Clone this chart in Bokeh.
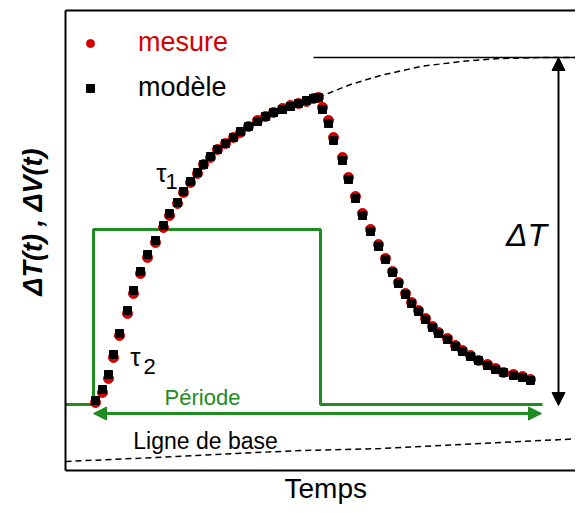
from bokeh.plotting import figure
from bokeh.models import (Range1d, LinearAxis, FixedTicker, Arrow, NormalHead,
                          Label, Legend, LegendItem, Title)
from bokeh.embed import file_html
from bokeh.resources import INLINE

# ---------------- data (arbitrary units) ----------------
temps = [30, 37, 43, 48, 54, 62, 68, 75, 82, 90, 98, 104, 112, 118, 125, 132, 138, 145,
         152, 160, 168, 175, 183, 192, 200, 208, 217, 225, 233, 241, 248, 253,
         257, 263, 268, 277, 283, 290, 297, 305, 313, 320, 327, 333, 340, 346, 353,
         360, 367, 373, 382, 390, 397, 405, 413, 422, 430, 438, 448, 457, 465]
mesure = [68, 78, 92, 113, 135, 157, 177, 197, 213, 228, 243, 255, 267, 278, 288, 297,
          306, 313, 321, 327, 333, 338, 344, 350, 354, 358, 362, 365, 367, 369, 372, 373,
          363, 350, 333, 313, 293, 274, 257, 241, 226, 212, 199, 188, 177, 168, 160,
          152, 144, 138, 132, 125, 120, 115, 110, 106, 102, 98, 96, 94, 91]
modele = [70, 81, 96, 116, 137, 160, 180, 199, 216, 230, 245, 257, 268, 279, 289, 298,
          306, 314, 321, 327, 333, 339, 344, 349, 354, 358, 361, 364, 367, 370, 372, 373,
          361, 347, 330, 310, 291, 272, 255, 239, 224, 211, 198, 187, 176, 167, 159,
          151, 143, 137, 131, 124, 119, 114, 110, 105, 101, 98, 95, 93, 90]

# heating pulse (Période)
pulse_t = [0, 28, 28, 255, 255, 477]
pulse_v = [66, 66, 241, 241, 66, 66]
periode_start, periode_end, periode_level = 28, 476, 57

# extrapolated model (dashed) and baseline (dashed)
extrap_t = [253, 265, 285, 315, 355, 395, 435, 475, 518]
extrap_v = [373, 378, 386, 395, 404, 409, 412, 413, 413]
base_t = [0, 90, 170, 235, 315, 415, 518]
base_v = [9, 13, 17, 20, 22, 27, 32]

# asymptote and amplitude ΔT
asym_t = [248, 518]
asym_v = [413, 413]
dT_x, dT_low, dT_high = 493, 65, 413

X_MAX, Y_MAX = 510, 460

FONT = "Liberation Sans"
RED = "#d40000"
GREEN = "#1f8c1f"

p = figure(width=575, height=505, output_backend="svg", toolbar_location=None,
           x_range=Range1d(0, X_MAX), y_range=Range1d(0, Y_MAX),
           x_axis_type=None, y_axis_type=None,
           min_border_left=65, min_border_right=0, min_border_top=10,
           min_border_bottom=35)
p.outline_line_color = None
p.background_fill_color = "white"

for loc in ["left", "below", "above"]:
    ax = LinearAxis(ticker=FixedTicker(ticks=[]), axis_line_color="black",
                    axis_line_width=2, major_tick_line_color=None,
                    minor_tick_line_color=None, major_label_text_font_size="0px")
    p.add_layout(ax, loc)

# axis titles
p.add_layout(Title(text="Temps", align="left", offset=219, standoff=0,
                   text_font=FONT, text_font_size="28px", text_font_style="normal",
                   text_color="black"), "below")
p.add_layout(Title(text="ΔT(t) , ΔV(t)", align="right", offset=138, standoff=31,
                   vertical_align="top",
                   text_font=FONT, text_font_size="27px", text_font_style="bold italic",
                   text_color="black"), "left")

# baseline & extrapolation
p.line(base_t, base_v, line_color="black", line_width=1.5, line_dash="6 4")
p.line(extrap_t, extrap_v, line_color="black", line_width=1.5, line_dash="6 4")
p.line(asym_t, asym_v, line_color="black", line_width=1.5)

# pulse
p.line(pulse_t, pulse_v, line_color=GREEN, line_width=3)

# period arrow
p.add_layout(Arrow(x_start=periode_start, y_start=periode_level,
                   x_end=periode_end, y_end=periode_level,
                   line_color=GREEN, line_width=3,
                   start=NormalHead(size=13, fill_color=GREEN, line_color=GREEN),
                   end=NormalHead(size=13, fill_color=GREEN, line_color=GREEN)))

# ΔT arrow
p.add_layout(Arrow(x_start=dT_x, y_start=dT_low, x_end=dT_x, y_end=dT_high,
                   line_color="black", line_width=2,
                   start=NormalHead(size=13, fill_color="black", line_color="black"),
                   end=NormalHead(size=13, fill_color="black", line_color="black")))

# data points
r_mes = p.scatter(temps, mesure, marker="circle", size=10, fill_color=RED, line_color=RED)
r_mod = p.scatter(temps, modele, marker="square", size=8, fill_color="black", line_color="black")

# legends
leg_kw = dict(border_line_color=None, background_fill_alpha=0, margin=0, padding=0,
              glyph_width=20, glyph_height=30, label_height=30, label_standoff=38,
              label_text_font=FONT, label_text_font_size="27px")
leg1 = Legend(items=[LegendItem(label="mesure", renderers=[r_mes])], location=(15, 412),
              label_text_color=RED, **leg_kw)
leg2 = Legend(items=[LegendItem(label="modèle", renderers=[r_mod])], location=(15, 367),
              label_text_color="black", **leg_kw)
p.add_layout(leg1)
p.add_layout(leg2)

def lab(x, y, text, size, color="black", style="normal"):
    p.add_layout(Label(x=x, y=y, text=text, text_font=FONT, text_font_size=size,
                       text_color=color, text_font_style=style,
                       text_align="center", text_baseline="middle"))

lab(137, 73, "Période", "22px", GREEN)
lab(140, 30, "Ligne de base", "23px")
lab(96, 298, "τ", "26px")
lab(106, 289, "1", "22px")
lab(70, 114, "τ", "26px")
lab(84, 104, "2", "22px")
lab(461, 236, "ΔT", "32px", style="italic")

open("out.html", "w").write(file_html(p, INLINE))
